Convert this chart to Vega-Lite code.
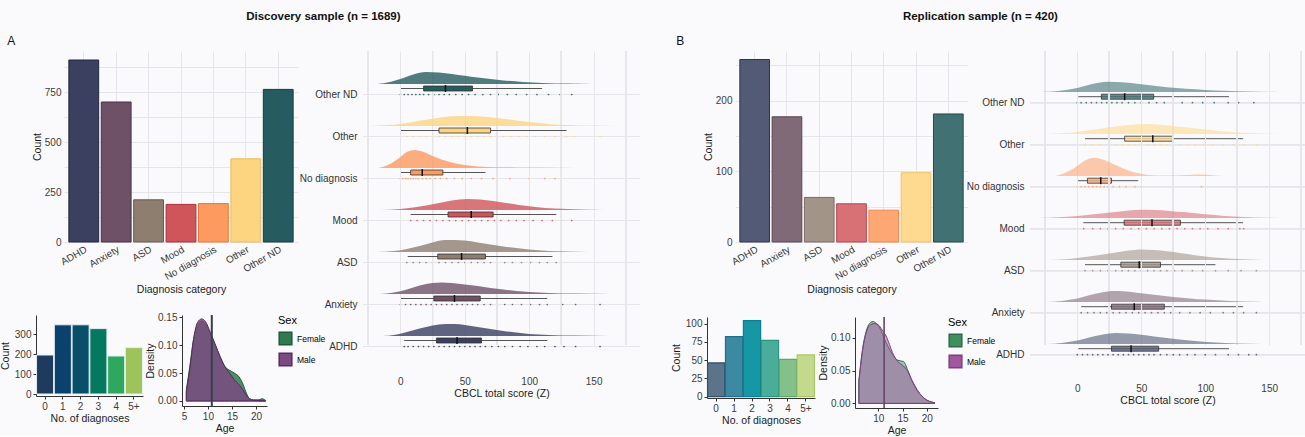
{
"$schema": "https://vega.github.io/schema/vega-lite/v6.json",
"background": "#fafafc",
"padding": {"left": 0, "top": 10, "right": 0, "bottom": 0},
"config": {
 "font": "Liberation Sans",
 "view": {"stroke": null},
 "axis": {"labelFontSize": 10, "titleFontSize": 10.5, "labelColor": "#3a3a3a", "titleColor": "#1a1a1a", "titleFontWeight": "normal", "gridColor": "#e6e6ea", "domainColor": "#333", "tickColor": "#333", "labelFont": "Liberation Sans", "titleFont": "Liberation Sans", "labelOverlap": false, "labelFlush": false},
 "legend": {"labelFont": "Liberation Sans", "titleFont": "Liberation Sans"},
 "title": {"font": "Liberation Sans"}
},
"spacing": 30,
"resolve": {"scale": {"fill": "independent", "stroke": "independent", "color": "independent"}},
"hconcat": [
{
 "title": {"text": "Discovery sample (n = 1689)", "fontSize": 11.5, "fontWeight": "bold", "anchor": "middle", "color": "#111", "offset": 13, "dx": 3},
 "spacing": -27,
 "resolve": {"scale": {"fill": "independent", "stroke": "independent", "color": "independent"}},
 "hconcat": [
 {
  "title": {"text": "A", "anchor": "start", "fontSize": 12, "fontWeight": "normal", "offset": 3, "color": "#111", "dx": 7},
  "center": true,
  "spacing": 16,
  "vconcat": [
  {
   "width": 234, "height": 191,
   "data": {"values": [{"cat":"ADHD","n":910},{"cat":"Anxiety","n":700},{"cat":"ASD","n":211},{"cat":"Mood","n":188},{"cat":"No diagnosis","n":192},{"cat":"Other","n":416},{"cat":"Other ND","n":763}]},
   "mark": {"type": "bar", "strokeWidth": 1},
   "encoding": {
    "x": {"field":"cat","type":"nominal","sort":null,"scale":{"paddingInner":0.08,"paddingOuter":0.15},"axis":{"title":"Diagnosis category","labelAngle":-30,"labelAlign":"right","labelBaseline":"top","grid":true,"bandPosition":0.5,"ticks":false,"domain":false,"labelPadding":2,"titlePadding":3}},
    "y": {"field":"n","type":"quantitative","scale":{"domain":[0,955],"nice":false},"axis":{"title":"Count","values":[0,125,250,375,500,625,750,875],"labelExpr":"datum.value % 250 == 0 ? datum.label : ''","grid":true,"ticks":false,"domain":false,"labelPadding":3,"titlePadding":2}},
    "fill": {"field":"cat","type":"nominal","scale":{"domain":["ADHD","Anxiety","ASD","Mood","No diagnosis","Other","Other ND"],"range":["#3b3f60","#6e5166","#8e7e70","#d0555b","#fd9a5f","#fdd581","#265b5f"]},"legend":null},
    "stroke": {"field":"cat","type":"nominal","scale":{"domain":["ADHD","Anxiety","ASD","Mood","No diagnosis","Other","Other ND"],"range":["#22263f","#4a3145","#6a5a4d","#a8303a","#e8783a","#e8bc5a","#163c40"]},"legend":null}
   }
  },
  {
   "spacing": 2,
   "resolve": {"scale": {"fill": "independent", "stroke": "independent", "color": "independent"}},
   "hconcat": [
   {
    "width": 107, "height": 81,
    "data": {"values": [{"k":"0","n":195},{"k":"1","n":346},{"k":"2","n":346},{"k":"3","n":327},{"k":"4","n":190},{"k":"5+","n":232}]},
    "mark": {"type": "bar", "stroke": "#e4eef2", "strokeWidth": 1},
    "encoding": {
     "x": {"field":"k","type":"ordinal","sort":null,"scale":{"paddingInner":0.04,"paddingOuter":0.03},"axis":{"title":"No. of diagnoses","labelAngle":0,"grid":false,"tickSize":3,"titlePadding":2}},
     "y": {"field":"n","type":"quantitative","scale":{"domain":[-10,395],"nice":false,"zero":true},"axis":{"values":[0,100,200,300],"title":"Count","grid":false,"tickSize":3}},
     "fill": {"field":"k","type":"nominal","scale":{"domain":["0","1","2","3","4","5+"],"range":["#1e3a5f","#0b416d","#0a4f6a","#04795f","#2ea85e","#9dc35a"]},"legend":null}
    }
   },
   {
    "width": 85, "height": 91,
    "layer": [
     {
      "data": {"values": [
       {"sex":"Female","age":5.5,"d":0.02},{"sex":"Female","age":6.2,"d":0.06},{"sex":"Female","age":7,"d":0.11},{"sex":"Female","age":7.8,"d":0.135},{"sex":"Female","age":8.7,"d":0.143},{"sex":"Female","age":9.5,"d":0.138},{"sex":"Female","age":10.5,"d":0.12},{"sex":"Female","age":11.5,"d":0.1},{"sex":"Female","age":12.5,"d":0.08},{"sex":"Female","age":13.5,"d":0.062},{"sex":"Female","age":14.5,"d":0.055},{"sex":"Female","age":15.5,"d":0.05},{"sex":"Female","age":16.5,"d":0.043},{"sex":"Female","age":17.3,"d":0.03},{"sex":"Female","age":18,"d":0.014},{"sex":"Female","age":18.7,"d":0.004},{"sex":"Female","age":19.5,"d":0.002},{"sex":"Female","age":20.5,"d":0.002},{"sex":"Female","age":21.3,"d":0.004},{"sex":"Female","age":22,"d":0.001},
       {"sex":"Male","age":5.5,"d":0.016},{"sex":"Male","age":6.2,"d":0.055},{"sex":"Male","age":7,"d":0.11},{"sex":"Male","age":7.8,"d":0.14},{"sex":"Male","age":8.7,"d":0.147},{"sex":"Male","age":9.5,"d":0.142},{"sex":"Male","age":10.5,"d":0.123},{"sex":"Male","age":11.5,"d":0.102},{"sex":"Male","age":12.5,"d":0.08},{"sex":"Male","age":13.5,"d":0.062},{"sex":"Male","age":14.5,"d":0.05},{"sex":"Male","age":15.5,"d":0.038},{"sex":"Male","age":16.5,"d":0.029},{"sex":"Male","age":17.3,"d":0.02},{"sex":"Male","age":18,"d":0.01},{"sex":"Male","age":18.7,"d":0.004},{"sex":"Male","age":19.5,"d":0.001},{"sex":"Male","age":20.5,"d":0.0005},{"sex":"Male","age":22,"d":0}
      ]},
      "mark": {"type": "area", "interpolate": "monotone", "fillOpacity": 0.85, "strokeWidth": 1},
      "encoding": {
       "x": {"field":"age","type":"quantitative","scale":{"domain":[4.6,22.3],"nice":false,"zero":false},"axis":{"tickCount":4,"title":"Age","grid":false,"tickSize":3,"titlePadding":2,"labelOverlap":false,"labelFlush":false}},
       "y": {"field":"d","type":"quantitative","stack":null,"scale":{"domain":[-0.009,0.154],"nice":false,"zero":false},"axis":{"values":[0,0.05,0.1,0.15],"format":".2f","title":"Density","grid":false,"tickSize":3,"titlePadding":2}},
       "y2": {"datum": 0},
       "fill": {"field":"sex","type":"nominal","scale":{"domain":["Female","Male"],"range":["#2f7a50","#7a4a80"]},"legend":{"title":"Sex","orient":"right","offset":10,"symbolType":"square","symbolSize":160,"titleFontSize":11,"titleFontWeight":"normal","labelFontSize":8.5}},
       "stroke": {"field":"sex","type":"nominal","scale":{"domain":["Female","Male"],"range":["#1f5a3a","#5a2a60"]},"legend":{"title":"Sex","orient":"right","offset":10,"symbolType":"square","symbolSize":160,"titleFontSize":11,"titleFontWeight":"normal","labelFontSize":8.5}}
      }
     },
     {
      "data": {"values": [{"sex":"Female","age":10.85},{"sex":"Male","age":10.75}]},
      "mark": {"type": "rule", "strokeWidth": 1.5},
      "encoding": {
       "x": {"field":"age","type":"quantitative"},
       "stroke": {"field":"sex","type":"nominal"}
      }
     }
    ]
   }
   ]
  }
  ]
 },
 {
  "data": {"values": [
   {"c":"Other ND","k":"d","s":-18,"v":0},{"c":"Other ND","k":"d","s":-8,"v":0.002},{"c":"Other ND","k":"d","s":0,"v":0.005},{"c":"Other ND","k":"d","s":10,"v":0.0095},{"c":"Other ND","k":"d","s":20,"v":0.012},{"c":"Other ND","k":"d","s":30,"v":0.0115},{"c":"Other ND","k":"d","s":40,"v":0.01},{"c":"Other ND","k":"d","s":50,"v":0.0082},{"c":"Other ND","k":"d","s":60,"v":0.0064},{"c":"Other ND","k":"d","s":70,"v":0.0048},{"c":"Other ND","k":"d","s":80,"v":0.0035},{"c":"Other ND","k":"d","s":95,"v":0.002},{"c":"Other ND","k":"d","s":110,"v":0.001},{"c":"Other ND","k":"d","s":130,"v":0.0003},{"c":"Other ND","k":"d","s":150,"v":0},
   {"c":"Other","k":"d","s":-24,"v":0},{"c":"Other","k":"d","s":-10,"v":0.0008},{"c":"Other","k":"d","s":0,"v":0.002},{"c":"Other","k":"d","s":10,"v":0.004},{"c":"Other","k":"d","s":20,"v":0.0062},{"c":"Other","k":"d","s":30,"v":0.0082},{"c":"Other","k":"d","s":40,"v":0.0096},{"c":"Other","k":"d","s":51,"v":0.01},{"c":"Other","k":"d","s":60,"v":0.0097},{"c":"Other","k":"d","s":70,"v":0.0087},{"c":"Other","k":"d","s":80,"v":0.0072},{"c":"Other","k":"d","s":90,"v":0.0055},{"c":"Other","k":"d","s":100,"v":0.0038},{"c":"Other","k":"d","s":115,"v":0.002},{"c":"Other","k":"d","s":130,"v":0.0009},{"c":"Other","k":"d","s":150,"v":0.0003},{"c":"Other","k":"d","s":170,"v":0},
   {"c":"No diagnosis","k":"d","s":-17,"v":0},{"c":"No diagnosis","k":"d","s":-8,"v":0.004},{"c":"No diagnosis","k":"d","s":0,"v":0.011},{"c":"No diagnosis","k":"d","s":5,"v":0.016},{"c":"No diagnosis","k":"d","s":11,"v":0.018},{"c":"No diagnosis","k":"d","s":18,"v":0.016},{"c":"No diagnosis","k":"d","s":25,"v":0.012},{"c":"No diagnosis","k":"d","s":32,"v":0.0085},{"c":"No diagnosis","k":"d","s":40,"v":0.0055},{"c":"No diagnosis","k":"d","s":50,"v":0.003},{"c":"No diagnosis","k":"d","s":60,"v":0.0015},{"c":"No diagnosis","k":"d","s":75,"v":0.0007},{"c":"No diagnosis","k":"d","s":90,"v":0.0005},{"c":"No diagnosis","k":"d","s":110,"v":0.0003},{"c":"No diagnosis","k":"d","s":137,"v":0},
   {"c":"Mood","k":"d","s":-16,"v":0},{"c":"Mood","k":"d","s":0,"v":0.001},{"c":"Mood","k":"d","s":10,"v":0.0025},{"c":"Mood","k":"d","s":20,"v":0.0045},{"c":"Mood","k":"d","s":30,"v":0.007},{"c":"Mood","k":"d","s":40,"v":0.0095},{"c":"Mood","k":"d","s":52,"v":0.011},{"c":"Mood","k":"d","s":62,"v":0.0105},{"c":"Mood","k":"d","s":72,"v":0.009},{"c":"Mood","k":"d","s":82,"v":0.007},{"c":"Mood","k":"d","s":92,"v":0.005},{"c":"Mood","k":"d","s":105,"v":0.003},{"c":"Mood","k":"d","s":120,"v":0.0013},{"c":"Mood","k":"d","s":140,"v":0.0004},{"c":"Mood","k":"d","s":158,"v":0},
   {"c":"ASD","k":"d","s":-19,"v":0},{"c":"ASD","k":"d","s":-5,"v":0.001},{"c":"ASD","k":"d","s":5,"v":0.003},{"c":"ASD","k":"d","s":15,"v":0.006},{"c":"ASD","k":"d","s":25,"v":0.0095},{"c":"ASD","k":"d","s":35,"v":0.0118},{"c":"ASD","k":"d","s":42,"v":0.012},{"c":"ASD","k":"d","s":50,"v":0.0113},{"c":"ASD","k":"d","s":60,"v":0.0095},{"c":"ASD","k":"d","s":70,"v":0.0075},{"c":"ASD","k":"d","s":80,"v":0.0055},{"c":"ASD","k":"d","s":90,"v":0.0038},{"c":"ASD","k":"d","s":100,"v":0.0024},{"c":"ASD","k":"d","s":115,"v":0.001},{"c":"ASD","k":"d","s":130,"v":0.0004},{"c":"ASD","k":"d","s":146,"v":0},
   {"c":"Anxiety","k":"d","s":-16,"v":0},{"c":"Anxiety","k":"d","s":-5,"v":0.0015},{"c":"Anxiety","k":"d","s":5,"v":0.0045},{"c":"Anxiety","k":"d","s":15,"v":0.0085},{"c":"Anxiety","k":"d","s":25,"v":0.011},{"c":"Anxiety","k":"d","s":32,"v":0.0115},{"c":"Anxiety","k":"d","s":40,"v":0.011},{"c":"Anxiety","k":"d","s":50,"v":0.0095},{"c":"Anxiety","k":"d","s":60,"v":0.0078},{"c":"Anxiety","k":"d","s":70,"v":0.006},{"c":"Anxiety","k":"d","s":80,"v":0.0044},{"c":"Anxiety","k":"d","s":90,"v":0.003},{"c":"Anxiety","k":"d","s":100,"v":0.0019},{"c":"Anxiety","k":"d","s":115,"v":0.001},{"c":"Anxiety","k":"d","s":135,"v":0.0003},{"c":"Anxiety","k":"d","s":164,"v":0},
   {"c":"ADHD","k":"d","s":-14,"v":0},{"c":"ADHD","k":"d","s":-5,"v":0.001},{"c":"ADHD","k":"d","s":5,"v":0.004},{"c":"ADHD","k":"d","s":15,"v":0.0075},{"c":"ADHD","k":"d","s":25,"v":0.0105},{"c":"ADHD","k":"d","s":35,"v":0.012},{"c":"ADHD","k":"d","s":42,"v":0.012},{"c":"ADHD","k":"d","s":50,"v":0.011},{"c":"ADHD","k":"d","s":60,"v":0.009},{"c":"ADHD","k":"d","s":70,"v":0.007},{"c":"ADHD","k":"d","s":80,"v":0.005},{"c":"ADHD","k":"d","s":90,"v":0.0033},{"c":"ADHD","k":"d","s":100,"v":0.002},{"c":"ADHD","k":"d","s":115,"v":0.001},{"c":"ADHD","k":"d","s":135,"v":0.0003},{"c":"ADHD","k":"d","s":162,"v":0},
   {"c":"Other ND","k":"b","lo":0.5,"q1":18,"md":35,"q3":56,"hi":110},
   {"c":"Other","k":"b","lo":0.5,"q1":30,"md":52,"q3":70,"hi":129},
   {"c":"No diagnosis","k":"b","lo":0.5,"q1":8,"md":17,"q3":33,"hi":66},
   {"c":"Mood","k":"b","lo":8,"q1":37,"md":55,"q3":72,"hi":121},
   {"c":"ASD","k":"b","lo":5.7,"q1":29,"md":47.5,"q3":66,"hi":118},
   {"c":"Anxiety","k":"b","lo":0.5,"q1":26,"md":42,"q3":62,"hi":114},
   {"c":"ADHD","k":"b","lo":3,"q1":28,"md":44,"q3":63,"hi":114},
   {"c":"Other ND","k":"p","s":0},{"c":"Other ND","k":"p","s":3},{"c":"Other ND","k":"p","s":6},{"c":"Other ND","k":"p","s":9},{"c":"Other ND","k":"p","s":12},{"c":"Other ND","k":"p","s":15},{"c":"Other ND","k":"p","s":18},{"c":"Other ND","k":"p","s":22},{"c":"Other ND","k":"p","s":26},{"c":"Other ND","k":"p","s":30},{"c":"Other ND","k":"p","s":34},{"c":"Other ND","k":"p","s":38},{"c":"Other ND","k":"p","s":43},{"c":"Other ND","k":"p","s":48},{"c":"Other ND","k":"p","s":53},{"c":"Other ND","k":"p","s":58},{"c":"Other ND","k":"p","s":64},{"c":"Other ND","k":"p","s":70},{"c":"Other ND","k":"p","s":76},{"c":"Other ND","k":"p","s":83},{"c":"Other ND","k":"p","s":90},{"c":"Other ND","k":"p","s":98},{"c":"Other ND","k":"p","s":106},{"c":"Other ND","k":"p","s":115},{"c":"Other ND","k":"p","s":124},{"c":"Other ND","k":"p","s":133},
   {"c":"Other","k":"p","s":0},{"c":"Other","k":"p","s":5},{"c":"Other","k":"p","s":10},{"c":"Other","k":"p","s":15},{"c":"Other","k":"p","s":20},{"c":"Other","k":"p","s":25},{"c":"Other","k":"p","s":30},{"c":"Other","k":"p","s":35},{"c":"Other","k":"p","s":40},{"c":"Other","k":"p","s":45},{"c":"Other","k":"p","s":50},{"c":"Other","k":"p","s":55},{"c":"Other","k":"p","s":60},{"c":"Other","k":"p","s":65},{"c":"Other","k":"p","s":70},{"c":"Other","k":"p","s":75},{"c":"Other","k":"p","s":80},{"c":"Other","k":"p","s":86},{"c":"Other","k":"p","s":92},{"c":"Other","k":"p","s":98},{"c":"Other","k":"p","s":105},{"c":"Other","k":"p","s":112},{"c":"Other","k":"p","s":120},{"c":"Other","k":"p","s":129},{"c":"Other","k":"p","s":135},{"c":"Other","k":"p","s":155},
   {"c":"No diagnosis","k":"p","s":0},{"c":"No diagnosis","k":"p","s":2},{"c":"No diagnosis","k":"p","s":4},{"c":"No diagnosis","k":"p","s":6},{"c":"No diagnosis","k":"p","s":8},{"c":"No diagnosis","k":"p","s":10},{"c":"No diagnosis","k":"p","s":12},{"c":"No diagnosis","k":"p","s":14},{"c":"No diagnosis","k":"p","s":17},{"c":"No diagnosis","k":"p","s":20},{"c":"No diagnosis","k":"p","s":23},{"c":"No diagnosis","k":"p","s":27},{"c":"No diagnosis","k":"p","s":31},{"c":"No diagnosis","k":"p","s":36},{"c":"No diagnosis","k":"p","s":42},{"c":"No diagnosis","k":"p","s":48},{"c":"No diagnosis","k":"p","s":55},{"c":"No diagnosis","k":"p","s":63},{"c":"No diagnosis","k":"p","s":72},{"c":"No diagnosis","k":"p","s":85},{"c":"No diagnosis","k":"p","s":100},{"c":"No diagnosis","k":"p","s":112},{"c":"No diagnosis","k":"p","s":120},
   {"c":"Mood","k":"p","s":8},{"c":"Mood","k":"p","s":13},{"c":"Mood","k":"p","s":18},{"c":"Mood","k":"p","s":23},{"c":"Mood","k":"p","s":28},{"c":"Mood","k":"p","s":33},{"c":"Mood","k":"p","s":38},{"c":"Mood","k":"p","s":43},{"c":"Mood","k":"p","s":48},{"c":"Mood","k":"p","s":53},{"c":"Mood","k":"p","s":58},{"c":"Mood","k":"p","s":63},{"c":"Mood","k":"p","s":68},{"c":"Mood","k":"p","s":73},{"c":"Mood","k":"p","s":78},{"c":"Mood","k":"p","s":84},{"c":"Mood","k":"p","s":90},{"c":"Mood","k":"p","s":96},{"c":"Mood","k":"p","s":103},{"c":"Mood","k":"p","s":110},{"c":"Mood","k":"p","s":118},{"c":"Mood","k":"p","s":125},{"c":"Mood","k":"p","s":133},
   {"c":"ASD","k":"p","s":5},{"c":"ASD","k":"p","s":10},{"c":"ASD","k":"p","s":15},{"c":"ASD","k":"p","s":20},{"c":"ASD","k":"p","s":25},{"c":"ASD","k":"p","s":30},{"c":"ASD","k":"p","s":35},{"c":"ASD","k":"p","s":40},{"c":"ASD","k":"p","s":45},{"c":"ASD","k":"p","s":50},{"c":"ASD","k":"p","s":55},{"c":"ASD","k":"p","s":60},{"c":"ASD","k":"p","s":65},{"c":"ASD","k":"p","s":70},{"c":"ASD","k":"p","s":75},{"c":"ASD","k":"p","s":81},{"c":"ASD","k":"p","s":87},{"c":"ASD","k":"p","s":94},{"c":"ASD","k":"p","s":101},{"c":"ASD","k":"p","s":108},{"c":"ASD","k":"p","s":114},{"c":"ASD","k":"p","s":121},
   {"c":"Anxiety","k":"p","s":0},{"c":"Anxiety","k":"p","s":4},{"c":"Anxiety","k":"p","s":8},{"c":"Anxiety","k":"p","s":12},{"c":"Anxiety","k":"p","s":16},{"c":"Anxiety","k":"p","s":20},{"c":"Anxiety","k":"p","s":24},{"c":"Anxiety","k":"p","s":28},{"c":"Anxiety","k":"p","s":32},{"c":"Anxiety","k":"p","s":36},{"c":"Anxiety","k":"p","s":40},{"c":"Anxiety","k":"p","s":44},{"c":"Anxiety","k":"p","s":48},{"c":"Anxiety","k":"p","s":52},{"c":"Anxiety","k":"p","s":56},{"c":"Anxiety","k":"p","s":60},{"c":"Anxiety","k":"p","s":65},{"c":"Anxiety","k":"p","s":70},{"c":"Anxiety","k":"p","s":75},{"c":"Anxiety","k":"p","s":81},{"c":"Anxiety","k":"p","s":87},{"c":"Anxiety","k":"p","s":94},{"c":"Anxiety","k":"p","s":101},{"c":"Anxiety","k":"p","s":108},{"c":"Anxiety","k":"p","s":114},{"c":"Anxiety","k":"p","s":126},{"c":"Anxiety","k":"p","s":136},{"c":"Anxiety","k":"p","s":155},
   {"c":"ADHD","k":"p","s":3},{"c":"ADHD","k":"p","s":6},{"c":"ADHD","k":"p","s":10},{"c":"ADHD","k":"p","s":14},{"c":"ADHD","k":"p","s":18},{"c":"ADHD","k":"p","s":22},{"c":"ADHD","k":"p","s":26},{"c":"ADHD","k":"p","s":30},{"c":"ADHD","k":"p","s":34},{"c":"ADHD","k":"p","s":38},{"c":"ADHD","k":"p","s":42},{"c":"ADHD","k":"p","s":46},{"c":"ADHD","k":"p","s":50},{"c":"ADHD","k":"p","s":54},{"c":"ADHD","k":"p","s":58},{"c":"ADHD","k":"p","s":62},{"c":"ADHD","k":"p","s":66},{"c":"ADHD","k":"p","s":71},{"c":"ADHD","k":"p","s":76},{"c":"ADHD","k":"p","s":81},{"c":"ADHD","k":"p","s":87},{"c":"ADHD","k":"p","s":93},{"c":"ADHD","k":"p","s":99},{"c":"ADHD","k":"p","s":106},{"c":"ADHD","k":"p","s":112},{"c":"ADHD","k":"p","s":120},{"c":"ADHD","k":"p","s":127},{"c":"ADHD","k":"p","s":136},{"c":"ADHD","k":"p","s":155}
  ]},
  "facet": {"row": {"field": "c", "type": "nominal", "sort": ["Other ND","Other","No diagnosis","Mood","ASD","Anxiety","ADHD"], "title": null, "header": {"labels": false}}},
  "spacing": {"row": 0},
  "bounds": "flush",
  "resolve": {"scale": {"y": "independent"}},
  "spec": {
   "width": 277, "height": 42,
   "resolve": {"scale": {"y": "independent"}},
   "layer": [
    {"mark": {"type": "rule", "color": "#e6e6ea", "strokeWidth": 1}, "encoding": {"x": {"datum": -25, "type": "quantitative"}}},
    {"mark": {"type": "rule", "color": "#e6e6ea", "strokeWidth": 1}, "encoding": {"x": {"datum": 25, "type": "quantitative"}}},
    {"mark": {"type": "rule", "color": "#e6e6ea", "strokeWidth": 1}, "encoding": {"x": {"datum": 75, "type": "quantitative"}}},
    {"mark": {"type": "rule", "color": "#e6e6ea", "strokeWidth": 1}, "encoding": {"x": {"datum": 125, "type": "quantitative"}}},
    {"mark": {"type": "rule", "color": "#e6e6ea", "strokeWidth": 1}, "encoding": {"x": {"datum": 175, "type": "quantitative"}}},
    {
     "transform": [{"filter": "datum.k == 'd'"}],
     "mark": {"type": "area", "interpolate": "monotone", "fillOpacity": 0.8},
     "encoding": {
      "x": {"field": "s", "type": "quantitative", "scale": {"domain": [-29, 186], "nice": false, "zero": false}, "axis": {"values": [0,50,100,150], "title": "CBCL total score (Z)", "grid": true, "gridColor": "#e6e6ea", "ticks": false, "domain": false, "labelPadding": 31, "titlePadding": 2, "labelOverlap": false, "labelFlush": false}},
      "y": {"field": "v", "type": "quantitative", "scale": {"domain": [-0.0091, 0.0329], "nice": false, "zero": false}, "axis": null},
      "y2": {"datum": 0},
      "fill": {"field": "c", "type": "nominal", "scale": {"domain": ["ADHD","Anxiety","ASD","Mood","No diagnosis","Other","Other ND"], "range": ["#3b3f60","#6e5166","#8e7e70","#d0555b","#fd9a5f","#fdd581","#265b5f"]}, "legend": null}
     }
    },
    {
     "layer": [
      {
       "mark": {"type": "rule", "color": "#e6e6ea", "strokeWidth": 1},
       "encoding": {"y": {"datum": 0, "type": "quantitative", "scale": {"domain": [1.5, 43.5], "nice": false, "zero": false}, "axis": null}}
      },
      {
       "transform": [{"filter": "datum.k == 'b'"}],
       "mark": {"type": "rule", "color": "#555", "strokeWidth": 1},
       "encoding": {"x": {"field": "lo", "type": "quantitative"}, "x2": {"field": "hi"}, "y": {"datum": 6, "type": "quantitative"}}
      },
      {
       "transform": [{"filter": "datum.k == 'p'"}],
       "mark": {"type": "circle", "size": 3, "opacity": 0.9},
       "encoding": {"x": {"field": "s", "type": "quantitative"}, "y": {"datum": 0, "type": "quantitative"}, "fill": {"field": "c", "type": "nominal", "legend": null}}
      },
      {
       "transform": [{"filter": "datum.k == 'b'"}],
       "mark": {"type": "rect", "stroke": "#333", "strokeWidth": 0.8},
       "encoding": {"x": {"field": "q1", "type": "quantitative"}, "x2": {"field": "q3"}, "y": {"datum": 8.5, "type": "quantitative"}, "y2": {"datum": 3.5}, "fill": {"field": "c", "type": "nominal", "legend": null}}
      },
      {
       "transform": [{"filter": "datum.k == 'b'"}],
       "mark": {"type": "rule", "color": "#111", "strokeWidth": 1.5},
       "encoding": {"x": {"field": "md", "type": "quantitative"}, "y": {"datum": 9.5, "type": "quantitative"}, "y2": {"datum": 2.5}}
      }
     ]
    },
    {
     "transform": [{"filter": "datum.k == 'b'"}],
     "mark": {"type": "tick", "opacity": 0},
     "encoding": {
      "x": {"field": "md", "type": "quantitative"},
      "y": {"field": "c", "type": "nominal", "scale": {"paddingInner": 0, "paddingOuter": 0}, "axis": {"orient": "left", "title": null, "ticks": false, "domain": false, "grid": false, "labelOffset": 22.5, "labelPadding": 6, "labelFontSize": 10, "labelColor": "#333"}}
     }
    }
   ]
  }
 }
 ]
},
{
 "title": {"text": "Replication sample (n = 420)", "fontSize": 11.5, "fontWeight": "bold", "anchor": "middle", "color": "#111", "offset": 13, "dx": -8},
 "spacing": -30,
 "resolve": {"scale": {"fill": "independent", "stroke": "independent", "color": "independent"}},
 "hconcat": [
 {
  "title": {"text": "B", "anchor": "start", "fontSize": 12, "fontWeight": "normal", "offset": 3, "color": "#111", "dx": 5},
  "center": true,
  "vconcat": [
  {
   "width": 233, "height": 191,
   "data": {"values": [{"cat":"ADHD","n":258},{"cat":"Anxiety","n":177},{"cat":"ASD","n":63},{"cat":"Mood","n":54},{"cat":"No diagnosis","n":45},{"cat":"Other","n":98},{"cat":"Other ND","n":181}]},
   "mark": {"type": "bar", "strokeWidth": 1},
   "encoding": {
    "x": {"field":"cat","type":"nominal","sort":null,"scale":{"paddingInner":0.08,"paddingOuter":0.15},"axis":{"title":"Diagnosis category","labelAngle":-30,"labelAlign":"right","labelBaseline":"top","grid":true,"bandPosition":0.5,"ticks":false,"domain":false,"labelPadding":2,"titlePadding":3}},
    "y": {"field":"n","type":"quantitative","scale":{"domain":[0,270],"nice":false},"axis":{"title":"Count","values":[0,50,100,150,200,250],"labelExpr":"datum.value % 100 == 0 ? datum.label : ''","grid":true,"ticks":false,"domain":false,"labelPadding":3,"titlePadding":2}},
    "fill": {"field":"cat","type":"nominal","scale":{"domain":["ADHD","Anxiety","ASD","Mood","No diagnosis","Other","Other ND"],"range":["#525a75","#816a77","#a29588","#d87176","#fca774","#fdda90","#417173"]},"legend":null},
    "stroke": {"field":"cat","type":"nominal","scale":{"domain":["ADHD","Anxiety","ASD","Mood","No diagnosis","Other","Other ND"],"range":["#2e3450","#5a4556","#7a6c60","#b8454c","#f08448","#eec266","#24494c"]},"legend":null}
   }
  },
  {
   "spacing": 2,
   "resolve": {"scale": {"fill": "independent", "stroke": "independent", "color": "independent"}},
   "hconcat": [
   {
    "width": 108, "height": 81,
    "data": {"values": [{"k":"0","n":46},{"k":"1","n":82},{"k":"2","n":104},{"k":"3","n":77},{"k":"4","n":51},{"k":"5+","n":57}]},
    "mark": {"type": "bar", "strokeWidth": 1.2},
    "encoding": {
     "x": {"field":"k","type":"ordinal","sort":null,"scale":{"paddingInner":0.04,"paddingOuter":0.03},"axis":{"title":"No. of diagnoses","labelAngle":0,"grid":false,"tickSize":3,"titlePadding":2}},
     "y": {"field":"n","type":"quantitative","scale":{"domain":[-2,109],"nice":false,"zero":true},"axis":{"values":[0,25,50,75,100],"title":"Count","grid":false,"tickSize":3}},
     "fill": {"field":"k","type":"nominal","scale":{"domain":["0","1","2","3","4","5+"],"range":["#5b7489","#3b8aa1","#1697a6","#4aad99","#84c18a","#c3d98d"]},"legend":null},
     "stroke": {"field":"k","type":"nominal","scale":{"domain":["0","1","2","3","4","5+"],"range":["#2f4f6a","#1f6f88","#0a7f8f","#2a9580","#60a86a","#a6c86a"]},"legend":null}
    }
   },
   {
    "width": 83, "height": 91,
    "layer": [
     {
      "data": {"values": [
       {"sex":"Female","age":6,"d":0.035},{"sex":"Female","age":6.8,"d":0.085},{"sex":"Female","age":7.5,"d":0.11},{"sex":"Female","age":8.2,"d":0.122},{"sex":"Female","age":8.9,"d":0.125},{"sex":"Female","age":9.6,"d":0.122},{"sex":"Female","age":10.5,"d":0.112},{"sex":"Female","age":11.3,"d":0.098},{"sex":"Female","age":12,"d":0.087},{"sex":"Female","age":12.9,"d":0.075},{"sex":"Female","age":14,"d":0.066},{"sex":"Female","age":15.2,"d":0.064},{"sex":"Female","age":16,"d":0.052},{"sex":"Female","age":16.9,"d":0.035},{"sex":"Female","age":18,"d":0.02},{"sex":"Female","age":19,"d":0.011},{"sex":"Female","age":20,"d":0.005},{"sex":"Female","age":21,"d":0.002},{"sex":"Female","age":21.6,"d":0.001},
       {"sex":"Male","age":6,"d":0.033},{"sex":"Male","age":6.8,"d":0.083},{"sex":"Male","age":7.5,"d":0.108},{"sex":"Male","age":8.2,"d":0.119},{"sex":"Male","age":9.2,"d":0.122},{"sex":"Male","age":10,"d":0.12},{"sex":"Male","age":10.8,"d":0.112},{"sex":"Male","age":11.6,"d":0.103},{"sex":"Male","age":12.3,"d":0.09},{"sex":"Male","age":12.9,"d":0.078},{"sex":"Male","age":14,"d":0.064},{"sex":"Male","age":15.2,"d":0.057},{"sex":"Male","age":16,"d":0.05},{"sex":"Male","age":16.9,"d":0.036},{"sex":"Male","age":18,"d":0.021},{"sex":"Male","age":19,"d":0.011},{"sex":"Male","age":20,"d":0.005},{"sex":"Male","age":21,"d":0.002},{"sex":"Male","age":21.6,"d":0.001}
      ]},
      "mark": {"type": "area", "interpolate": "monotone", "fillOpacity": 0.5, "strokeWidth": 1},
      "encoding": {
       "x": {"field":"age","type":"quantitative","scale":{"domain":[5.2,22.3],"nice":false,"zero":false},"axis":{"values":[10,15,20],"title":"Age","grid":false,"tickSize":3,"titlePadding":2}},
       "y": {"field":"d","type":"quantitative","stack":null,"scale":{"domain":[-0.007,0.132],"nice":false,"zero":false},"axis":{"values":[0,0.05,0.1],"format":".2f","title":"Density","grid":false,"tickSize":3,"titlePadding":2}},
       "y2": {"datum": 0},
       "fill": {"field":"sex","type":"nominal","scale":{"domain":["Female","Male"],"range":["#3f8f5f","#a058a0"]},"legend":{"title":"Sex","orient":"right","offset":10,"symbolType":"square","symbolSize":160,"titleFontSize":11,"titleFontWeight":"normal","labelFontSize":8.5}},
       "stroke": {"field":"sex","type":"nominal","scale":{"domain":["Female","Male"],"range":["#2d6a4a","#7b3f7f"]},"legend":{"title":"Sex","orient":"right","offset":10,"symbolType":"square","symbolSize":160,"titleFontSize":11,"titleFontWeight":"normal","labelFontSize":8.5}}
      }
     },
     {
      "data": {"values": [{"sex":"Female","age":11.2},{"sex":"Male","age":11.2}]},
      "mark": {"type": "rule", "strokeWidth": 1.2},
      "encoding": {
       "x": {"field":"age","type":"quantitative"},
       "stroke": {"field":"sex","type":"nominal"}
      }
     }
    ]
   }
   ]
  }
  ]
 },
 {
  "data": {"values": [
   {"c":"Other ND","k":"d","s":-29,"v":0},{"c":"Other ND","k":"d","s":-15,"v":0.001},{"c":"Other ND","k":"d","s":0,"v":0.004},{"c":"Other ND","k":"d","s":10,"v":0.0075},{"c":"Other ND","k":"d","s":24,"v":0.0103},{"c":"Other ND","k":"d","s":35,"v":0.0098},{"c":"Other ND","k":"d","s":45,"v":0.0085},{"c":"Other ND","k":"d","s":55,"v":0.007},{"c":"Other ND","k":"d","s":65,"v":0.0055},{"c":"Other ND","k":"d","s":75,"v":0.0043},{"c":"Other ND","k":"d","s":85,"v":0.0033},{"c":"Other ND","k":"d","s":100,"v":0.0022},{"c":"Other ND","k":"d","s":115,"v":0.0013},{"c":"Other ND","k":"d","s":135,"v":0.0006},{"c":"Other ND","k":"d","s":166,"v":0},
   {"c":"Other","k":"d","s":-24,"v":0},{"c":"Other","k":"d","s":-10,"v":0.001},{"c":"Other","k":"d","s":0,"v":0.0022},{"c":"Other","k":"d","s":15,"v":0.0048},{"c":"Other","k":"d","s":30,"v":0.0075},{"c":"Other","k":"d","s":42,"v":0.0093},{"c":"Other","k":"d","s":52,"v":0.01},{"c":"Other","k":"d","s":62,"v":0.0097},{"c":"Other","k":"d","s":72,"v":0.0087},{"c":"Other","k":"d","s":85,"v":0.0068},{"c":"Other","k":"d","s":100,"v":0.0045},{"c":"Other","k":"d","s":115,"v":0.0027},{"c":"Other","k":"d","s":130,"v":0.0013},{"c":"Other","k":"d","s":150,"v":0.0004},{"c":"Other","k":"d","s":169,"v":0},
   {"c":"No diagnosis","k":"d","s":-17,"v":0},{"c":"No diagnosis","k":"d","s":-8,"v":0.004},{"c":"No diagnosis","k":"d","s":0,"v":0.01},{"c":"No diagnosis","k":"d","s":6,"v":0.0155},{"c":"No diagnosis","k":"d","s":13,"v":0.0183},{"c":"No diagnosis","k":"d","s":20,"v":0.0165},{"c":"No diagnosis","k":"d","s":28,"v":0.012},{"c":"No diagnosis","k":"d","s":36,"v":0.0075},{"c":"No diagnosis","k":"d","s":45,"v":0.0035},{"c":"No diagnosis","k":"d","s":55,"v":0.0012},{"c":"No diagnosis","k":"d","s":70,"v":0.0006},{"c":"No diagnosis","k":"d","s":85,"v":0.0012},{"c":"No diagnosis","k":"d","s":95,"v":0.0016},{"c":"No diagnosis","k":"d","s":105,"v":0.0008},{"c":"No diagnosis","k":"d","s":115,"v":0},
   {"c":"Mood","k":"d","s":-31,"v":0},{"c":"Mood","k":"d","s":-15,"v":0.0008},{"c":"Mood","k":"d","s":0,"v":0.002},{"c":"Mood","k":"d","s":15,"v":0.004},{"c":"Mood","k":"d","s":30,"v":0.0062},{"c":"Mood","k":"d","s":40,"v":0.0076},{"c":"Mood","k":"d","s":50,"v":0.0083},{"c":"Mood","k":"d","s":60,"v":0.0081},{"c":"Mood","k":"d","s":72,"v":0.0072},{"c":"Mood","k":"d","s":85,"v":0.0058},{"c":"Mood","k":"d","s":100,"v":0.0038},{"c":"Mood","k":"d","s":115,"v":0.0022},{"c":"Mood","k":"d","s":130,"v":0.0011},{"c":"Mood","k":"d","s":148,"v":0.0004},{"c":"Mood","k":"d","s":166,"v":0},
   {"c":"ASD","k":"d","s":-22,"v":0},{"c":"ASD","k":"d","s":-10,"v":0.0008},{"c":"ASD","k":"d","s":0,"v":0.002},{"c":"ASD","k":"d","s":15,"v":0.0045},{"c":"ASD","k":"d","s":30,"v":0.0075},{"c":"ASD","k":"d","s":40,"v":0.0095},{"c":"ASD","k":"d","s":50,"v":0.0107},{"c":"ASD","k":"d","s":60,"v":0.0102},{"c":"ASD","k":"d","s":70,"v":0.0088},{"c":"ASD","k":"d","s":80,"v":0.007},{"c":"ASD","k":"d","s":92,"v":0.0048},{"c":"ASD","k":"d","s":105,"v":0.0028},{"c":"ASD","k":"d","s":120,"v":0.0013},{"c":"ASD","k":"d","s":140,"v":0.0004},{"c":"ASD","k":"d","s":166,"v":0},
   {"c":"Anxiety","k":"d","s":-25,"v":0},{"c":"Anxiety","k":"d","s":-12,"v":0.0012},{"c":"Anxiety","k":"d","s":0,"v":0.0035},{"c":"Anxiety","k":"d","s":10,"v":0.007},{"c":"Anxiety","k":"d","s":20,"v":0.0098},{"c":"Anxiety","k":"d","s":28,"v":0.011},{"c":"Anxiety","k":"d","s":36,"v":0.0108},{"c":"Anxiety","k":"d","s":45,"v":0.0097},{"c":"Anxiety","k":"d","s":55,"v":0.0082},{"c":"Anxiety","k":"d","s":65,"v":0.0066},{"c":"Anxiety","k":"d","s":75,"v":0.0052},{"c":"Anxiety","k":"d","s":88,"v":0.0037},{"c":"Anxiety","k":"d","s":100,"v":0.0025},{"c":"Anxiety","k":"d","s":120,"v":0.0011},{"c":"Anxiety","k":"d","s":140,"v":0.0004},{"c":"Anxiety","k":"d","s":166,"v":0},
   {"c":"ADHD","k":"d","s":-24,"v":0},{"c":"ADHD","k":"d","s":-12,"v":0.0012},{"c":"ADHD","k":"d","s":0,"v":0.0035},{"c":"ADHD","k":"d","s":10,"v":0.0068},{"c":"ADHD","k":"d","s":20,"v":0.0095},{"c":"ADHD","k":"d","s":30,"v":0.011},{"c":"ADHD","k":"d","s":40,"v":0.0105},{"c":"ADHD","k":"d","s":50,"v":0.0093},{"c":"ADHD","k":"d","s":60,"v":0.0077},{"c":"ADHD","k":"d","s":70,"v":0.006},{"c":"ADHD","k":"d","s":80,"v":0.0045},{"c":"ADHD","k":"d","s":92,"v":0.003},{"c":"ADHD","k":"d","s":105,"v":0.0018},{"c":"ADHD","k":"d","s":125,"v":0.0007},{"c":"ADHD","k":"d","s":145,"v":0.0002},{"c":"ADHD","k":"d","s":162,"v":0},
   {"c":"Other ND","k":"b","lo":0.8,"q1":18.8,"md":37,"q3":59.7,"hi":118.6},
   {"c":"Other","k":"b","lo":6,"q1":37,"md":59,"q3":74.6,"hi":129.6},
   {"c":"No diagnosis","k":"b","lo":0,"q1":7.9,"md":18.3,"q3":26.7,"hi":47.6},
   {"c":"Mood","k":"b","lo":4.7,"q1":36.6,"md":58.4,"q3":80.6,"hi":129.6},
   {"c":"ASD","k":"b","lo":6,"q1":34,"md":48.4,"q3":65,"hi":108},
   {"c":"Anxiety","k":"b","lo":3,"q1":26.7,"md":44.5,"q3":68,"hi":129.6},
   {"c":"ADHD","k":"b","lo":0.8,"q1":26.7,"md":42,"q3":63.6,"hi":118.6},
   {"c":"Other ND","k":"p","s":0},{"c":"Other ND","k":"p","s":3},{"c":"Other ND","k":"p","s":7},{"c":"Other ND","k":"p","s":11},{"c":"Other ND","k":"p","s":15},{"c":"Other ND","k":"p","s":19},{"c":"Other ND","k":"p","s":23},{"c":"Other ND","k":"p","s":27},{"c":"Other ND","k":"p","s":31},{"c":"Other ND","k":"p","s":35},{"c":"Other ND","k":"p","s":40},{"c":"Other ND","k":"p","s":45},{"c":"Other ND","k":"p","s":50},{"c":"Other ND","k":"p","s":56},{"c":"Other ND","k":"p","s":62},{"c":"Other ND","k":"p","s":68},{"c":"Other ND","k":"p","s":75},{"c":"Other ND","k":"p","s":82},{"c":"Other ND","k":"p","s":90},{"c":"Other ND","k":"p","s":98},{"c":"Other ND","k":"p","s":107},{"c":"Other ND","k":"p","s":118},{"c":"Other ND","k":"p","s":126},{"c":"Other ND","k":"p","s":138},
   {"c":"Other","k":"p","s":6},{"c":"Other","k":"p","s":12},{"c":"Other","k":"p","s":18},{"c":"Other","k":"p","s":24},{"c":"Other","k":"p","s":30},{"c":"Other","k":"p","s":35},{"c":"Other","k":"p","s":40},{"c":"Other","k":"p","s":45},{"c":"Other","k":"p","s":50},{"c":"Other","k":"p","s":55},{"c":"Other","k":"p","s":60},{"c":"Other","k":"p","s":65},{"c":"Other","k":"p","s":70},{"c":"Other","k":"p","s":75},{"c":"Other","k":"p","s":80},{"c":"Other","k":"p","s":86},{"c":"Other","k":"p","s":92},{"c":"Other","k":"p","s":99},{"c":"Other","k":"p","s":106},{"c":"Other","k":"p","s":114},{"c":"Other","k":"p","s":122},{"c":"Other","k":"p","s":130},{"c":"Other","k":"p","s":140},
   {"c":"No diagnosis","k":"p","s":0},{"c":"No diagnosis","k":"p","s":3},{"c":"No diagnosis","k":"p","s":6},{"c":"No diagnosis","k":"p","s":9},{"c":"No diagnosis","k":"p","s":12},{"c":"No diagnosis","k":"p","s":15},{"c":"No diagnosis","k":"p","s":18},{"c":"No diagnosis","k":"p","s":21},{"c":"No diagnosis","k":"p","s":24},{"c":"No diagnosis","k":"p","s":28},{"c":"No diagnosis","k":"p","s":33},{"c":"No diagnosis","k":"p","s":38},{"c":"No diagnosis","k":"p","s":45},{"c":"No diagnosis","k":"p","s":50},{"c":"No diagnosis","k":"p","s":97},
   {"c":"Mood","k":"p","s":5},{"c":"Mood","k":"p","s":12},{"c":"Mood","k":"p","s":18},{"c":"Mood","k":"p","s":24},{"c":"Mood","k":"p","s":30},{"c":"Mood","k":"p","s":36},{"c":"Mood","k":"p","s":42},{"c":"Mood","k":"p","s":48},{"c":"Mood","k":"p","s":54},{"c":"Mood","k":"p","s":60},{"c":"Mood","k":"p","s":66},{"c":"Mood","k":"p","s":72},{"c":"Mood","k":"p","s":78},{"c":"Mood","k":"p","s":84},{"c":"Mood","k":"p","s":90},{"c":"Mood","k":"p","s":96},{"c":"Mood","k":"p","s":102},{"c":"Mood","k":"p","s":110},{"c":"Mood","k":"p","s":118},{"c":"Mood","k":"p","s":127},{"c":"Mood","k":"p","s":130},
   {"c":"ASD","k":"p","s":6},{"c":"ASD","k":"p","s":12},{"c":"ASD","k":"p","s":18},{"c":"ASD","k":"p","s":24},{"c":"ASD","k":"p","s":30},{"c":"ASD","k":"p","s":35},{"c":"ASD","k":"p","s":40},{"c":"ASD","k":"p","s":45},{"c":"ASD","k":"p","s":50},{"c":"ASD","k":"p","s":55},{"c":"ASD","k":"p","s":60},{"c":"ASD","k":"p","s":65},{"c":"ASD","k":"p","s":70},{"c":"ASD","k":"p","s":76},{"c":"ASD","k":"p","s":82},{"c":"ASD","k":"p","s":90},{"c":"ASD","k":"p","s":98},{"c":"ASD","k":"p","s":108},{"c":"ASD","k":"p","s":118},{"c":"ASD","k":"p","s":128},{"c":"ASD","k":"p","s":140},
   {"c":"Anxiety","k":"p","s":3},{"c":"Anxiety","k":"p","s":8},{"c":"Anxiety","k":"p","s":13},{"c":"Anxiety","k":"p","s":18},{"c":"Anxiety","k":"p","s":23},{"c":"Anxiety","k":"p","s":28},{"c":"Anxiety","k":"p","s":33},{"c":"Anxiety","k":"p","s":38},{"c":"Anxiety","k":"p","s":43},{"c":"Anxiety","k":"p","s":48},{"c":"Anxiety","k":"p","s":53},{"c":"Anxiety","k":"p","s":58},{"c":"Anxiety","k":"p","s":63},{"c":"Anxiety","k":"p","s":68},{"c":"Anxiety","k":"p","s":73},{"c":"Anxiety","k":"p","s":80},{"c":"Anxiety","k":"p","s":88},{"c":"Anxiety","k":"p","s":96},{"c":"Anxiety","k":"p","s":104},{"c":"Anxiety","k":"p","s":114},{"c":"Anxiety","k":"p","s":122},{"c":"Anxiety","k":"p","s":130},{"c":"Anxiety","k":"p","s":140},
   {"c":"ADHD","k":"p","s":0},{"c":"ADHD","k":"p","s":4},{"c":"ADHD","k":"p","s":8},{"c":"ADHD","k":"p","s":12},{"c":"ADHD","k":"p","s":16},{"c":"ADHD","k":"p","s":20},{"c":"ADHD","k":"p","s":24},{"c":"ADHD","k":"p","s":28},{"c":"ADHD","k":"p","s":32},{"c":"ADHD","k":"p","s":36},{"c":"ADHD","k":"p","s":40},{"c":"ADHD","k":"p","s":44},{"c":"ADHD","k":"p","s":48},{"c":"ADHD","k":"p","s":52},{"c":"ADHD","k":"p","s":56},{"c":"ADHD","k":"p","s":60},{"c":"ADHD","k":"p","s":65},{"c":"ADHD","k":"p","s":70},{"c":"ADHD","k":"p","s":75},{"c":"ADHD","k":"p","s":80},{"c":"ADHD","k":"p","s":86},{"c":"ADHD","k":"p","s":92},{"c":"ADHD","k":"p","s":100},{"c":"ADHD","k":"p","s":108},{"c":"ADHD","k":"p","s":118},{"c":"ADHD","k":"p","s":126},{"c":"ADHD","k":"p","s":134},{"c":"ADHD","k":"p","s":140}
  ]},
  "facet": {"row": {"field": "c", "type": "nominal", "sort": ["Other ND","Other","No diagnosis","Mood","ASD","Anxiety","ADHD"], "title": null, "header": {"labels": false}}},
  "spacing": {"row": 0},
  "bounds": "flush",
  "resolve": {"scale": {"y": "independent"}},
  "spec": {
   "width": 275, "height": 42,
   "resolve": {"scale": {"y": "independent"}},
   "layer": [
    {"mark": {"type": "rule", "color": "#e6e6ea", "strokeWidth": 1}, "encoding": {"x": {"datum": -25, "type": "quantitative"}}},
    {"mark": {"type": "rule", "color": "#e6e6ea", "strokeWidth": 1}, "encoding": {"x": {"datum": 25, "type": "quantitative"}}},
    {"mark": {"type": "rule", "color": "#e6e6ea", "strokeWidth": 1}, "encoding": {"x": {"datum": 75, "type": "quantitative"}}},
    {"mark": {"type": "rule", "color": "#e6e6ea", "strokeWidth": 1}, "encoding": {"x": {"datum": 125, "type": "quantitative"}}},
    {"mark": {"type": "rule", "color": "#e6e6ea", "strokeWidth": 1}, "encoding": {"x": {"datum": 175, "type": "quantitative"}}},
    {
     "transform": [{"filter": "datum.k == 'd'"}],
     "mark": {"type": "area", "interpolate": "monotone", "fillOpacity": 0.6},
     "encoding": {
      "x": {"field": "s", "type": "quantitative", "scale": {"domain": [-37, 178], "nice": false, "zero": false}, "axis": {"values": [0,50,100,150], "title": "CBCL total score (Z)", "grid": true, "gridColor": "#e6e6ea", "ticks": false, "domain": false, "labelPadding": 6, "titlePadding": 2, "offset": 32, "labelOverlap": false, "labelFlush": false}},
      "y": {"field": "v", "type": "quantitative", "scale": {"domain": [-0.0009, 0.0411], "nice": false, "zero": false}, "axis": null},
      "y2": {"datum": 0},
      "fill": {"field": "c", "type": "nominal", "scale": {"domain": ["ADHD","Anxiety","ASD","Mood","No diagnosis","Other","Other ND"], "range": ["#525a75","#816a77","#a29588","#d87176","#fca774","#fdda90","#417173"]}, "legend": null}
     }
    },
    {
     "layer": [
      {
       "mark": {"type": "rule", "color": "#e6e6ea", "strokeWidth": 1},
       "encoding": {"y": {"datum": 0, "type": "quantitative", "scale": {"domain": [9.7, 51.7], "nice": false, "zero": false}, "axis": null}}
      },
      {
       "transform": [{"filter": "datum.k == 'b'"}],
       "mark": {"type": "rule", "color": "#555", "strokeWidth": 1},
       "encoding": {"x": {"field": "lo", "type": "quantitative"}, "x2": {"field": "hi"}, "y": {"datum": 6, "type": "quantitative"}}
      },
      {
       "transform": [{"filter": "datum.k == 'p'"}],
       "mark": {"type": "circle", "size": 3, "opacity": 0.9},
       "encoding": {"x": {"field": "s", "type": "quantitative"}, "y": {"datum": 0, "type": "quantitative"}, "fill": {"field": "c", "type": "nominal", "legend": null}}
      },
      {
       "transform": [{"filter": "datum.k == 'b'"}],
       "mark": {"type": "rect", "stroke": "#333", "strokeWidth": 0.8, "fillOpacity": 0.8},
       "encoding": {"x": {"field": "q1", "type": "quantitative"}, "x2": {"field": "q3"}, "y": {"datum": 8.5, "type": "quantitative"}, "y2": {"datum": 3.5}, "fill": {"field": "c", "type": "nominal", "legend": null}}
      },
      {
       "transform": [{"filter": "datum.k == 'b'"}],
       "mark": {"type": "rule", "color": "#111", "strokeWidth": 1.5},
       "encoding": {"x": {"field": "md", "type": "quantitative"}, "y": {"datum": 9.5, "type": "quantitative"}, "y2": {"datum": 2.5}}
      }
     ]
    },
    {
     "transform": [{"filter": "datum.k == 'b'"}],
     "mark": {"type": "tick", "opacity": 0},
     "encoding": {
      "x": {"field": "md", "type": "quantitative"},
      "y": {"field": "c", "type": "nominal", "scale": {"paddingInner": 0, "paddingOuter": 0}, "axis": {"orient": "left", "title": null, "ticks": false, "domain": false, "grid": false, "labelOffset": 30.7, "labelPadding": 6, "labelFontSize": 10, "labelColor": "#333"}}
     }
    }
   ]
  }
 }
 ]
}
]
}
